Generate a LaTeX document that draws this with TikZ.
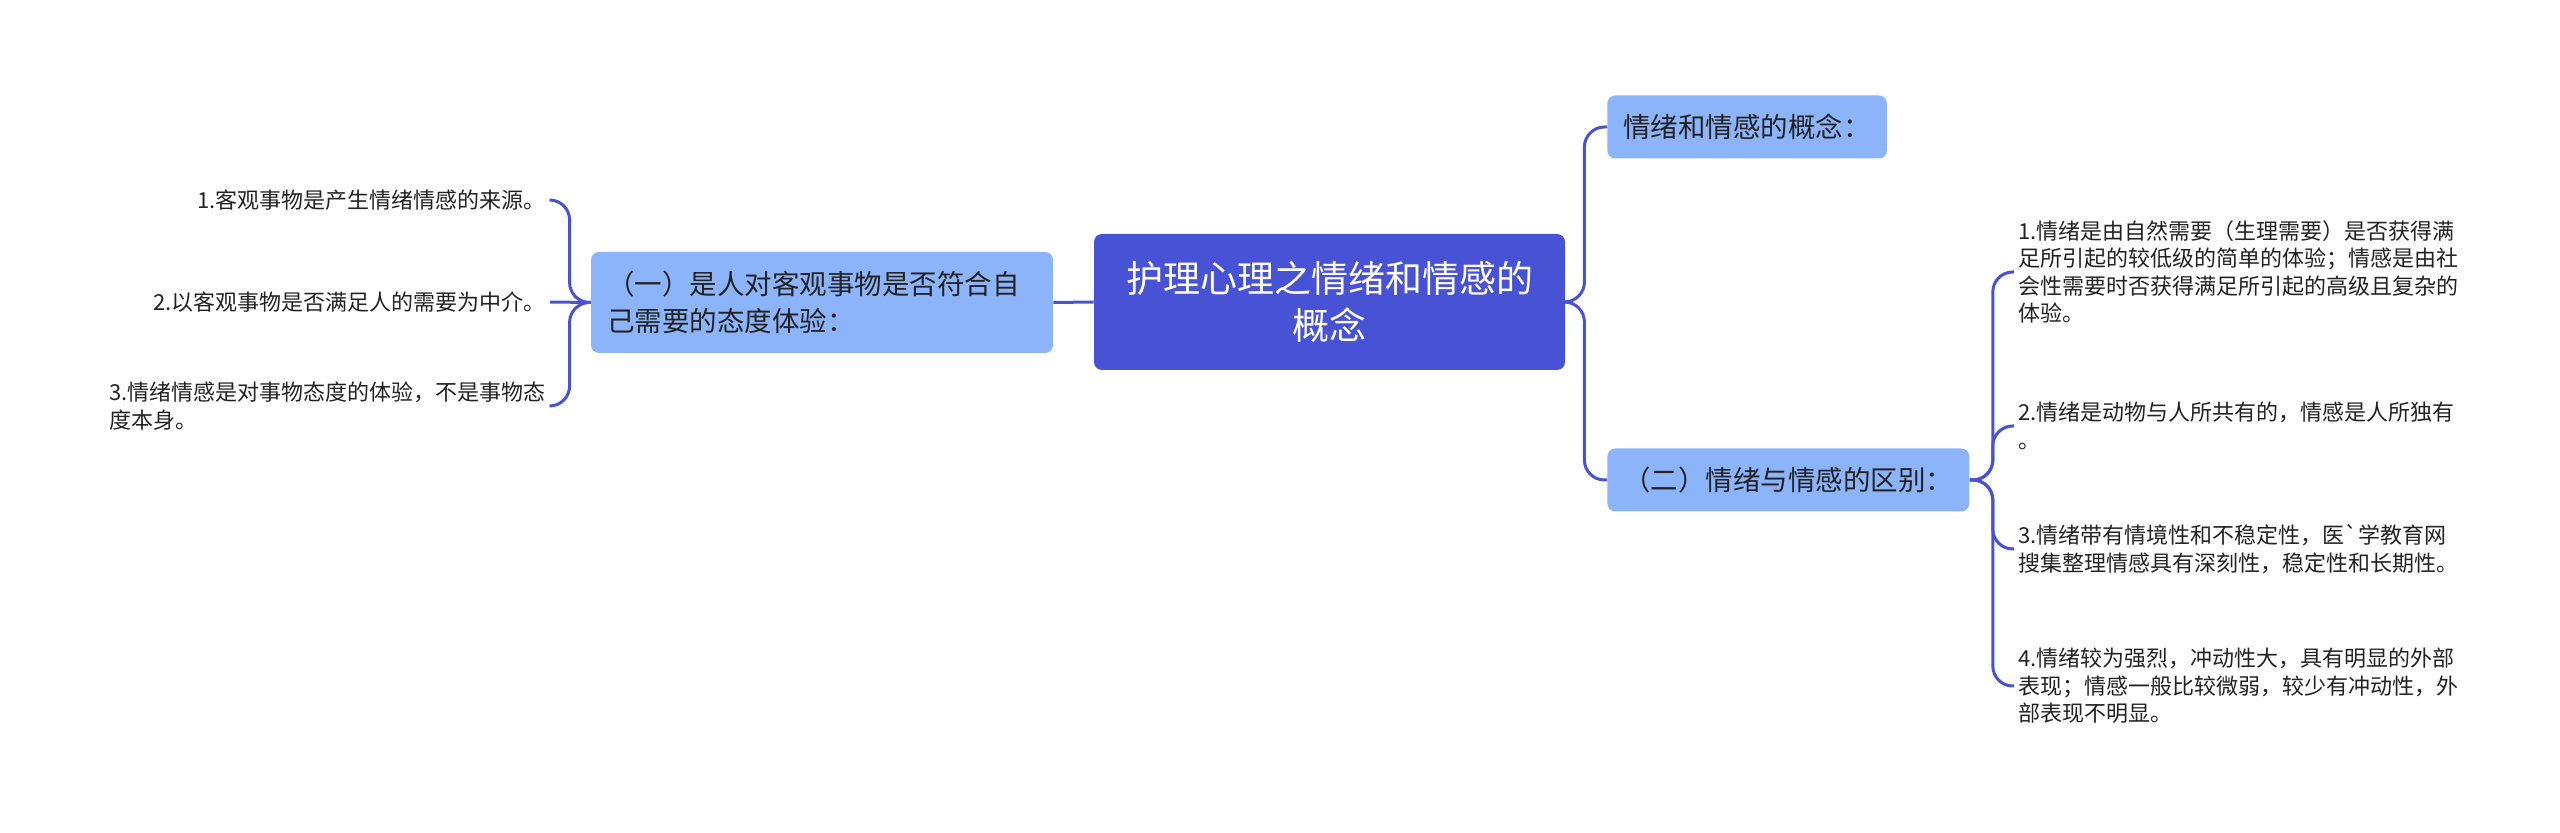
\documentclass[tikz,border=0pt]{standalone}
\usepackage{fontspec}
\newfontfamily\cjk{Noto Sans CJK SC}
\definecolor{rootblue}{HTML}{4852D4}
\definecolor{branchblue}{HTML}{8BB4FA}
\definecolor{linkblue}{HTML}{4852D4}
\definecolor{inkgray}{HTML}{222222}

\begin{document}
\begin{tikzpicture}[x=0.5pt, y=-0.5pt, every node/.style={font=\cjk},
	rootbox/.style={fill=rootblue, text=white, rounded corners=4pt, align=center, minimum width=235.5pt, minimum height=68pt, font=\cjk\fontsize{18.5}{23.5}\selectfont},
	branchbox/.style={fill=branchblue, text=inkgray, rounded corners=4pt, inner xsep=8pt, minimum height=31.5pt, font=\cjk\fontsize{13.75}{18.5}\selectfont},
	leaf/.style={text=inkgray, inner xsep=2pt, inner ysep=1pt, font=\cjk\fontsize{11}{13.8}\selectfont},
	link/.style={draw=linkblue, line width=1.5pt, rounded corners=10pt}]
	\useasboundingbox (0,0) rectangle (2560,833);
	% centre
	\node[rootbox] (root) at (1329.5,302) {护理心理之情绪和情感的\\概念};
	% left branch
	\node[branchbox, text width=215pt, align=left, minimum height=50.5pt] (lb) at (822,302.5) {（一）是人对客观事物是否符合自\\己需要的态度体验：};
	\node[leaf, anchor=east] (l1) at (550,200) {1.客观事物是产生情绪情感的来源。};
	\node[leaf, anchor=east] (l2) at (550,302) {2.以客观事物是否满足人的需要为中介。};
	\node[leaf, anchor=east, align=left] (l3) at (550,406) {3.情绪情感是对事物态度的体验，不是事物态\\度本身。};
	% right branches
	\node[branchbox, anchor=west] (r1) at (1607,127) {情绪和情感的概念：};
	\node[branchbox, anchor=west] (r2) at (1607,480) {（二）情绪与情感的区别：};
	\node[leaf, anchor=west, align=left] (d1) at (2014,272) {1.情绪是由自然需要（生理需要）是否获得满\\足所引起的较低级的简单的体验；情感是由社\\会性需要时否获得满足所引起的高级且复杂的\\体验。};
	\node[leaf, anchor=west, align=left] (d2) at (2014,426) {2.情绪是动物与人所共有的，情感是人所独有\\。};
	\node[leaf, anchor=west, align=left] (d3) at (2014,549) {3.情绪带有情境性和不稳定性，医`学教育网\\搜集整理情感具有深刻性，稳定性和长期性。};
	\node[leaf, anchor=west, align=left] (d4) at (2014,686) {4.情绪较为强烈，冲动性大，具有明显的外部\\表现；情感一般比较微弱，较少有冲动性，外\\部表现不明显。};
	% links
	\draw[link] (root.west) -- (lb.east);
	\draw[link] (lb.west) -- ++(-21,0) |- (l1.east);
	\draw[link] (lb.west) -- (l2.east);
	\draw[link] (lb.west) -- ++(-21,0) |- (l3.east);
	\draw[link] (root.east) -- ++(19,0) |- (r1.west);
	\draw[link] (root.east) -- ++(19,0) |- (r2.west);
	\foreach \d in {d1,d2,d3,d4} \draw[link] (r2.east) -- ++(23,0) |- (\d.west);
\end{tikzpicture}
\end{document}
